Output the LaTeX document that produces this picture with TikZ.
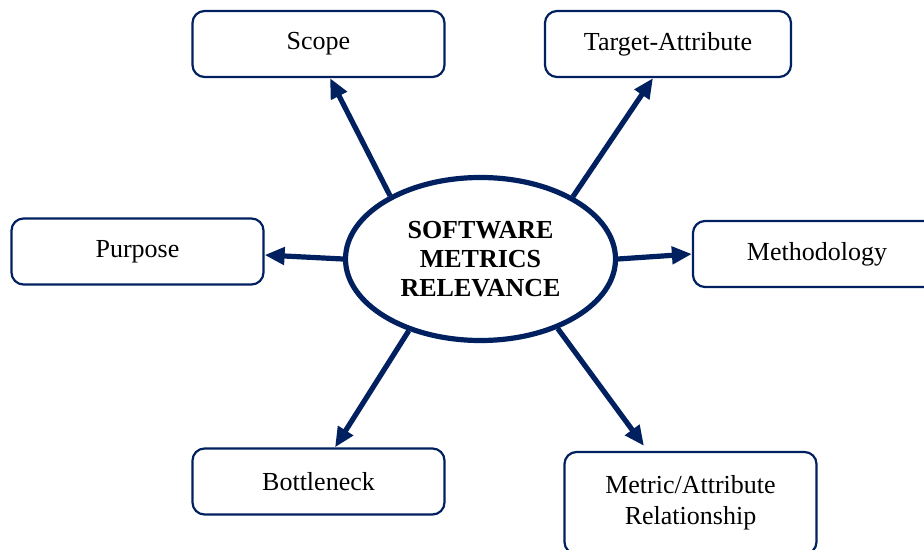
\documentclass[tikz,border=0pt]{standalone}
\usepackage{fontspec}
\setmainfont{Liberation Serif}
\usetikzlibrary{arrows.meta,shapes.geometric}

\definecolor{navy}{RGB}{0,32,96}

\begin{document}
\begin{tikzpicture}[x=0.5pt,y=-0.5pt,>={Triangle[length=10pt,width=8.5pt]},
  box/.style={draw=navy,line width=1.1pt,rounded corners=6pt,fill=white,
    minimum width=126pt,minimum height=33pt,align=center,
    font=\fontsize{13}{15.5}\selectfont},
  link/.style={->,draw=navy,line width=2.6pt}]
  \useasboundingbox (0,0) rectangle (924,550);
  \clip (0,0) rectangle (924,550);

  % centre ellipse
  \node[ellipse,draw=navy,line width=2.6pt,minimum width=135pt,minimum height=81.5pt,
    inner sep=0pt,align=center,font=\fontsize{13}{14.5}\selectfont\bfseries]
    (sme) at (480.5,259) {SOFTWARE\\METRICS\\RELEVANCE};

  % surrounding boxes
  \node[box] (scope) at (318.5,44) {Scope};
  \node[box,minimum width=123pt] (target) at (668,44) {Target-Attribute};
  \node[box] (purpose) at (137.5,251.5) {Purpose};
  \node[box,minimum width=124pt] (method) at (817,254) {Methodology};
  \node[box] (bottle) at (318.5,481.5) {Bottleneck};
  \node[box,minimum height=51pt] (metric) at (690.5,503) {Metric/Attribute\\Relationship};

  % arrows out of the ellipse
  \draw[link] (sme.145) -- ([xshift=5.75pt]scope.south);
  \draw[link] (sme.34) -- ([xshift=-7.5pt]target.south);
  \draw[link] (sme.west) -- ([yshift=-1.75pt]purpose.east);
  \draw[link] (sme.east) -- (method.west);
  \draw[link] (sme.225.6) -- ([xshift=8.25pt]bottle.north);
  \draw[link] (sme.-42.6) -- ([xshift=-23.25pt,yshift=2.5pt]metric.north);
\end{tikzpicture}
\end{document}
